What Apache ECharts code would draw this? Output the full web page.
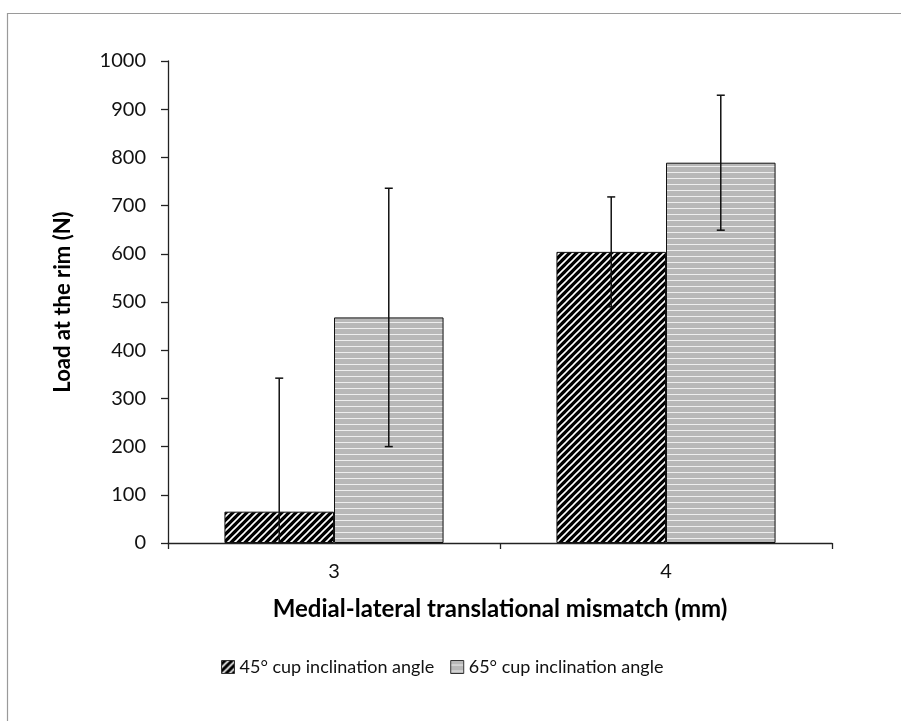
<!DOCTYPE html>
<html>
<head>
<meta charset="utf-8">
<script src="https://cdn.jsdelivr.net/npm/echarts@6/dist/echarts.min.js"></script>
<style>
  html, body { margin: 0; padding: 0; background: #fff; }
  #main { width: 901px; height: 721px; }
</style>
</head>
<body>
<div id="main"></div>
<script>
// data
var categories = ['3', '4'];
var seriesNames = ['45° cup inclination angle', '65° cup inclination angle'];
var mean45 = [65, 604];
var err45 = [277, 114];
var mean65 = [468, 789];
var err65 = [268, 140];
var yTicks = [0, 100, 200, 300, 400, 500, 600, 700, 800, 900, 1000];

var CAT_GAP = 0.34;

function hatchPattern() {
    var s = 7;
    var c = document.createElement('canvas');
    c.width = s; c.height = s;
    var ctx = c.getContext('2d');
    ctx.fillStyle = '#000';
    ctx.fillRect(0, 0, s, s);
    ctx.strokeStyle = '#fff';
    ctx.lineWidth = 1.6;
    ctx.beginPath();
    ctx.moveTo(-1, s + 1); ctx.lineTo(s + 1, -1);
    ctx.moveTo(-1, 1); ctx.lineTo(1, -1);
    ctx.moveTo(s - 1, s + 1); ctx.lineTo(s + 1, s - 1);
    ctx.stroke();
    return c;
}

function stripePattern() {
    var c = document.createElement('canvas');
    c.width = 6; c.height = 6;
    var ctx = c.getContext('2d');
    ctx.fillStyle = '#b8b8b8';
    ctx.fillRect(0, 0, 6, 6);
    ctx.fillStyle = '#eeeeee';
    ctx.fillRect(0, 4, 6, 1);
    return c;
}

function errorSeries(name, means, errs, side) {
    var data = [];
    for (var i = 0; i < means.length; i++) {
        data.push([i, means[i] - errs[i], means[i] + errs[i]]);
    }
    return {
        type: 'custom',
        name: name + ' err',
        z: 10,
        silent: true,
        data: data,
        renderItem: function (params, api) {
            var band = api.size([1, 0])[0];
            var barW = band * (1 - CAT_GAP) / 2;
            var cx = api.coord([api.value(0), 0])[0] + side * barW / 2;
            var lowV = api.value(1);
            var clipped = lowV < 0;
            var hi = api.coord([api.value(0), api.value(2)])[1];
            var lo = api.coord([api.value(0), Math.max(lowV, 0)])[1];
            var capW = 4;
            var style = { stroke: '#111', lineWidth: 1.5 };
            var kids = [
                { type: 'line', shape: { x1: cx, y1: hi, x2: cx, y2: lo }, style: style },
                { type: 'line', shape: { x1: cx - capW, y1: hi, x2: cx + capW, y2: hi }, style: style }
            ];
            if (!clipped) {
                kids.push({ type: 'line', shape: { x1: cx - capW, y1: lo, x2: cx + capW, y2: lo }, style: style });
            }
            return { type: 'group', children: kids };
        }
    };
}

var myChart = echarts.init(document.getElementById('main'));

var hatch = { image: hatchPattern(), repeat: 'repeat' };
var stripe = { image: stripePattern(), repeat: 'repeat' };

var option = {
    backgroundColor: '#fff',
    animation: false,
    textStyle: { fontFamily: 'Lato', color: '#111' },
    graphic: [{
        type: 'rect',
        left: 5, top: 11,
        shape: { width: 1000, height: 1000 },
        style: { fill: 'none', stroke: '#9a9a9a', lineWidth: 1.2 },
        silent: true
    }],
    grid: { left: 168, right: 69, top: 61, bottom: 178 },
    legend: {
        bottom: 40,
        left: 216,
        itemWidth: 13,
        itemHeight: 13,
        itemGap: 16,
        icon: 'rect',
        textStyle: { fontSize: 18, fontFamily: 'Lato', color: '#111' },
        data: [
            { name: seriesNames[0], itemStyle: { color: hatch, borderColor: '#333', borderWidth: 1 } },
            { name: seriesNames[1], itemStyle: { color: stripe, borderColor: '#333', borderWidth: 1 } }
        ]
    },
    xAxis: {
        type: 'category',
        data: categories,
        name: 'Medial-lateral translational mismatch (mm)',
        nameLocation: 'middle',
        nameGap: 54,
        nameTextStyle: { fontSize: 24, fontWeight: 'bold', color: '#000', fontFamily: 'Lato' },
        axisLine: { lineStyle: { color: '#222', width: 1.3 } },
        axisTick: { show: true, length: 6, inside: false, lineStyle: { color: '#222', width: 1.3 } },
        axisLabel: { fontSize: 20, color: '#111', margin: 19, fontFamily: 'Lato' },
        splitLine: { show: false }
    },
    yAxis: {
        type: 'value',
        min: yTicks[0],
        max: yTicks[yTicks.length - 1],
        interval: 100,
        name: 'Load at the rim (N)',
        nameLocation: 'middle',
        nameGap: 94,
        nameTextStyle: { fontSize: 22, fontWeight: 'bold', color: '#000', fontFamily: 'Lato' },
        axisLine: { show: true, lineStyle: { color: '#222', width: 1.3 } },
        axisTick: { show: true, length: 7, lineStyle: { color: '#222', width: 1.3 } },
        axisLabel: {
            fontSize: 20, color: '#111', margin: 22, fontFamily: 'Lato',
            formatter: function (v) { return String(v); }
        },
        splitLine: { show: false }
    },
    series: [
        {
            name: seriesNames[0],
            type: 'bar',
            data: mean45,
            barGap: '0%',
            barCategoryGap: (CAT_GAP * 100) + '%',
            itemStyle: { color: hatch, borderColor: '#111', borderWidth: 1 }
        },
        {
            name: seriesNames[1],
            type: 'bar',
            data: mean65,
            barGap: '0%',
            barCategoryGap: (CAT_GAP * 100) + '%',
            itemStyle: { color: stripe, borderColor: '#111', borderWidth: 1 }
        },
        errorSeries(seriesNames[0], mean45, err45, -1),
        errorSeries(seriesNames[1], mean65, err65, 1)
    ]
};

myChart.setOption(option);
</script>
</body>
</html>
